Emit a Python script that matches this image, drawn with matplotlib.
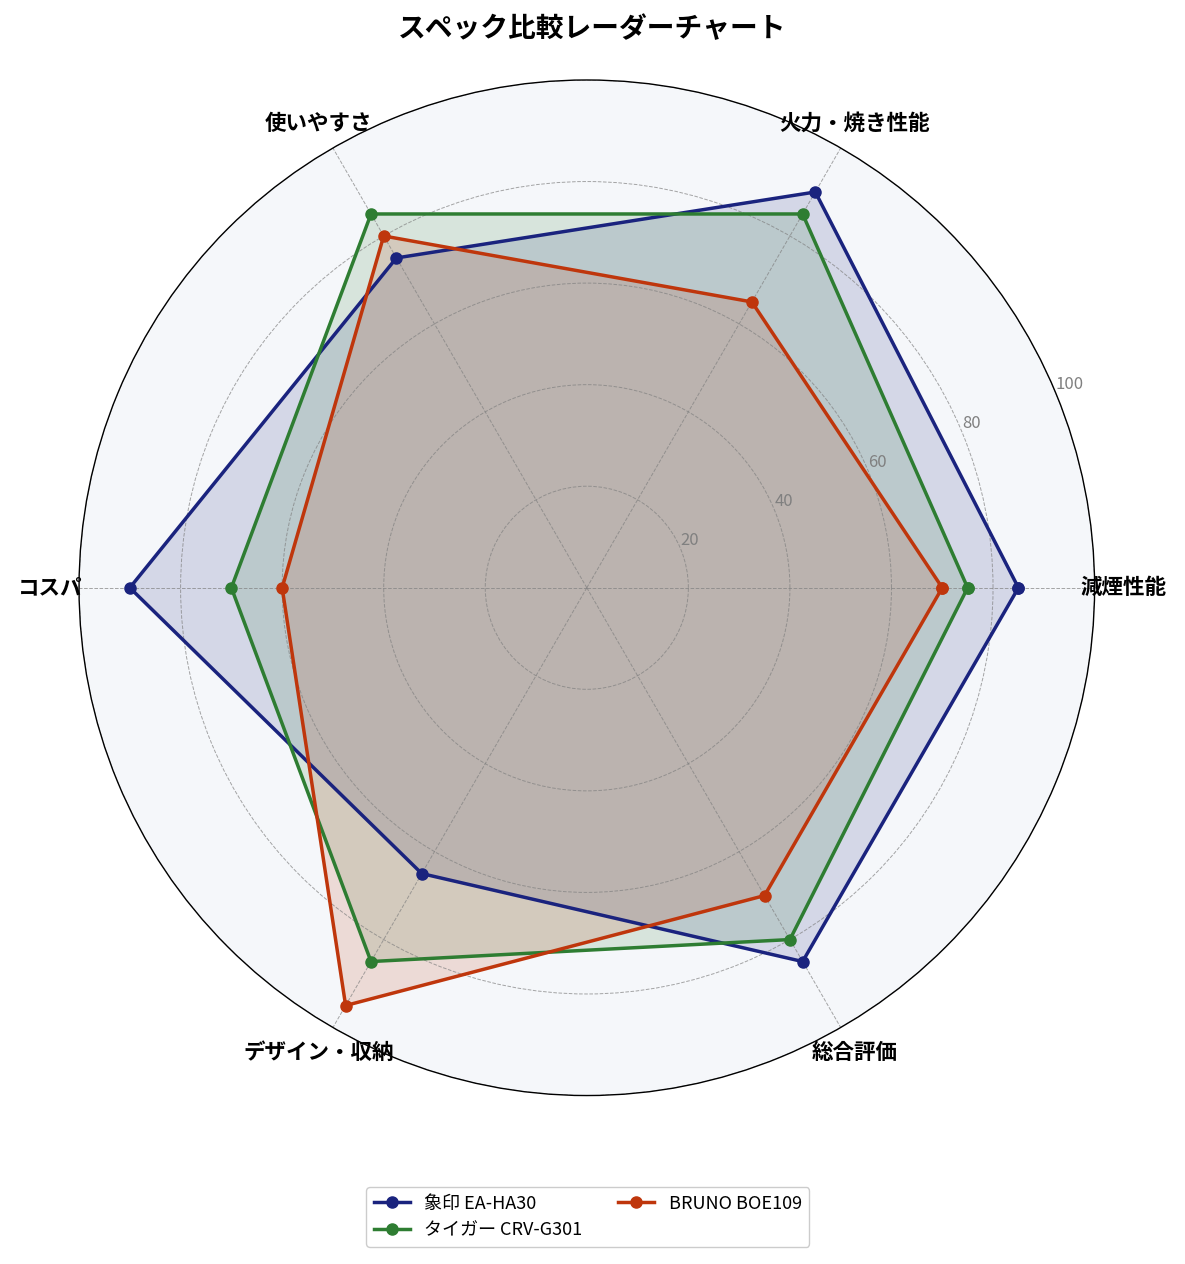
import matplotlib.pyplot as plt
import numpy as np

plt.rcParams['font.family'] = ['Noto Sans CJK JP', 'DejaVu Sans']

# axes (counter-clockwise from the right)
categories = ['減煙性能', '火力・焼き性能', '使いやすさ', 'コスパ', 'デザイン・収納', '総合評価']

# scores per model
zojirushi = [85, 90, 75, 90, 65, 85]
tiger = [75, 85, 85, 70, 85, 80]
bruno = [70, 65, 80, 60, 95, 70]

series_names = ['象印 EA-HA30', 'タイガー CRV-G301', 'BRUNO BOE109']
series_vals = [zojirushi, tiger, bruno]
colors = ['#1A237E', '#2E7D32', '#BF360C']

r_ticks = [20, 40, 60, 80, 100]

n = len(categories)
angles = np.linspace(0, 2 * np.pi, n, endpoint=False)
angles_closed = np.concatenate([angles, angles[:1]])

fig = plt.figure(figsize=(11.85, 12.64), dpi=100)
ax = fig.add_axes([0.0667, 0.133, 0.857, 0.804], polar=True)
ax.set_facecolor('#F5F7FA')

for name, vals, c in zip(series_names, series_vals, colors):
    v = np.concatenate([vals, vals[:1]])
    ax.plot(angles_closed, v, color=c, linewidth=2.5, marker='o', markersize=8, label=name)
    ax.fill(angles_closed, v, color=c, alpha=0.15)

ax.set_ylim(0, 100)
ax.set_yticks(r_ticks)
ax.set_yticklabels([str(t) for t in r_ticks], color='gray', fontsize=12)
ax.set_rlabel_position(22.5)

ax.set_xticks(angles)
ax.set_xticklabels(categories, fontsize=15.5, fontweight='bold')
ax.tick_params(axis='x', pad=10)

ax.grid(color='gray', linestyle='--', linewidth=0.7, alpha=0.7)
ax.spines['polar'].set_color('black')
ax.spines['polar'].set_linewidth(1.0)

fig.suptitle('スペック比較レーダーチャート', fontsize=20, fontweight='bold', y=0.988)

fig.legend(loc='center', bbox_to_anchor=(0.496, 0.037), ncol=2, fontsize=13, framealpha=1.0)

fig.savefig('out.png', dpi=100)
